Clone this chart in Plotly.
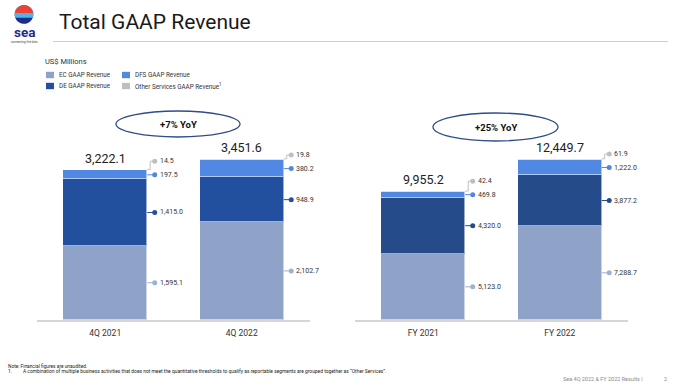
import numpy as np
import plotly.graph_objects as go

# ---------------- data ----------------
periods_q = ["4Q 2021", "4Q 2022"]
periods_fy = ["FY 2021", "FY 2022"]
series_names = ["EC GAAP Revenue", "DE GAAP Revenue", "DFS GAAP Revenue", "Other Services GAAP Revenue"]
ec_q = [1595.1, 2102.7]
de_q = [1415.0, 948.9]
dfs_q = [197.5, 380.2]
other_q = [14.5, 19.8]
total_q = [3222.1, 3451.6]
ec_fy = [5123.0, 7288.7]
de_fy = [4320.0, 3877.2]
dfs_fy = [469.8, 1222.0]
other_fy = [42.4, 61.9]
total_fy = [9955.2, 12449.7]
yoy_labels = ["+7% YoY", "+25% YoY"]

# ---------------- style ----------------
W, H = 673, 386
colors_q = ["#8FA3C8", "#22509E", "#5088E4", "#BFBFBF"]
colors_fy = ["#8FA3C8", "#264B8B", "#5088E4", "#BFBFBF"]
FONT = "Roboto"
TXT = "#333333"


def px(x):
    return x / W


def py(y):
    return 1 - y / H


fig = go.Figure()

panels = [
    dict(cats=periods_q, vals=[ec_q, de_q, dfs_q, other_q], tot=total_q, xa="x", ya="y",
         ymax=4711, colors=colors_q),
    dict(cats=periods_fy, vals=[ec_fy, de_fy, dfs_fy, other_fy], tot=total_fy, xa="x2", ya="y2",
         ymax=16990, colors=colors_fy),
]

Y_DOM = [py(320), py(100)]
dom_h = (Y_DOM[1] - Y_DOM[0]) * H
BW = 0.615
UNIT_PX = 136.5

for p in panels:
    xs = list(range(len(p["cats"])))
    cols = p["colors"]
    lcols = ["#9FB1D2"] + cols[1:]
    for s, name in enumerate(series_names):
        fig.add_trace(go.Bar(
            x=xs, y=p["vals"][s], name=name, width=BW,
            marker=dict(color=cols[s], line=dict(color="rgba(255,255,255,0.55)", width=1)),
            xaxis=p["xa"], yaxis=p["ya"], showlegend=False, hoverinfo="skip",
        ))
    k = dom_h / p["ymax"]  # px per unit
    for i in xs:
        v = [p["vals"][s][i] for s in range(4)]
        cum = np.cumsum(v)
        mids = cum - np.array(v) / 2
        top = cum[-1]
        edge = i + BW / 2
        x_el = edge + 3 / UNIT_PX
        x_dot = edge + 7.5 / UNIT_PX
        x_txt = x_dot + 3 / UNIT_PX
        lab_y = list(mids)
        lab_y[3] = max(top, lab_y[2] + 13.5 / k)
        anchors = list(mids)
        anchors[3] = top
        for s in range(4):
            if s < 2:
                lx = [edge, x_dot]
                ly = [lab_y[s], lab_y[s]]
            else:
                lx = [edge, x_el, x_el, x_dot]
                ly = [anchors[s], anchors[s], lab_y[s], lab_y[s]]
            fig.add_trace(go.Scatter(
                x=lx, y=ly, mode="lines", line=dict(color=lcols[s], width=1),
                xaxis=p["xa"], yaxis=p["ya"], showlegend=False, hoverinfo="skip"))
            fig.add_trace(go.Scatter(
                x=[x_dot], y=[lab_y[s]], mode="markers",
                marker=dict(color=lcols[s], size=5),
                xaxis=p["xa"], yaxis=p["ya"], showlegend=False, hoverinfo="skip"))
            fig.add_annotation(
                x=x_txt, y=lab_y[s], xref=p["xa"], yref=p["ya"], text=f"{v[s]:,.1f}",
                showarrow=False, xanchor="left", yanchor="middle",
                font=dict(family=FONT, size=7, color=TXT))
        fig.add_annotation(
            x=i, y=p["tot"][i], xref=p["xa"], yref=p["ya"], text=f"{p['tot'][i]:,.1f}",
            showarrow=False, xanchor="center", yanchor="bottom", yshift=2,
            font=dict(family=FONT, size=12.5, color="#222222"))

axis_common = dict(range=[-0.5, 1.5], tickmode="array", tickvals=[0, 1], showgrid=False,
                   zeroline=False, showline=True, linecolor="#D6D6D6", linewidth=2,
                   ticks="", ticklabelstandoff=4,
                   tickfont=dict(family=FONT, size=8.5, color=TXT))
fig.update_layout(
    xaxis=dict(domain=[px(37), px(310)], ticktext=periods_q, anchor="y", **axis_common),
    xaxis2=dict(domain=[px(355), px(628)], ticktext=periods_fy, anchor="y2", **axis_common),
    yaxis=dict(domain=Y_DOM, range=[0, panels[0]["ymax"]], visible=False),
    yaxis2=dict(domain=Y_DOM, range=[0, panels[1]["ymax"]], visible=False),
    barmode="stack", bargap=0,
    width=W, height=H, autosize=False,
    margin=dict(l=0, r=0, t=0, b=0),
    paper_bgcolor="white", plot_bgcolor="white",
    font=dict(family=FONT, color=TXT),
)

shapes = []
annos = []

# YoY ellipses
for (x0, x1, y0, y1), lab in zip([(116, 240, 111, 137), (433, 558, 113, 141)], yoy_labels):
    shapes.append(dict(type="circle", xref="paper", yref="paper", x0=px(x0), x1=px(x1),
                       y0=py(y1), y1=py(y0), line=dict(color="#2F4C8C", width=1.3),
                       fillcolor="white", layer="below"))
    annos.append(dict(x=px((x0 + x1) / 2), y=py((y0 + y1) / 2), xref="paper", yref="paper",
                      text=f"<b>{lab}</b>", showarrow=False, xanchor="center", yanchor="middle",
                      font=dict(family=FONT, size=9.5, color="#111111")))

# title + rule
annos.append(dict(x=px(57), y=py(22), xref="paper", yref="paper", text="Total GAAP Revenue",
                  showarrow=False, xanchor="left", yanchor="middle",
                  font=dict(family=FONT, size=21, color="#1a1a1a")))
shapes.append(dict(type="line", xref="paper", yref="paper", x0=px(53), x1=px(668),
                   y0=py(41.5), y1=py(41.5), line=dict(color="#C9CFDC", width=1.2)))

# logo
cx, cy, r = 24, 14.5, 9.3


def poly(points):
    s = "M " + " L ".join(f"{px(a):.5f},{py(b):.5f}" for a, b in points) + " Z"
    return s


ang = np.linspace(0, 2 * np.pi, 60)
shapes.append(dict(type="path", xref="paper", yref="paper", line=dict(width=0),
                   fillcolor="#1E2C8F",
                   path=poly([(cx + r * np.cos(a), cy - r * np.sin(a)) for a in ang])))
a1 = np.linspace(np.arcsin(-0.35), np.pi - np.arcsin(-0.35), 40)
shapes.append(dict(type="path", xref="paper", yref="paper", line=dict(width=0),
                   fillcolor="#4DB6E8",
                   path=poly([(cx + r * np.cos(a), cy - r * np.sin(a)) for a in a1])))
a2 = np.linspace(np.arcsin(0.15), np.pi - np.arcsin(0.15), 40)
shapes.append(dict(type="path", xref="paper", yref="paper", line=dict(width=0),
                   fillcolor="#EE4236",
                   path=poly([(cx + r * np.cos(a), cy - r * np.sin(a)) for a in a2])))
annos.append(dict(x=px(24.5), y=py(32), xref="paper", yref="paper", text="<b>sea</b>",
                  showarrow=False, xanchor="center", yanchor="middle",
                  font=dict(family=FONT, size=13.5, color="#1E2C8F")))
annos.append(dict(x=px(24.5), y=py(42.5), xref="paper", yref="paper", text="connecting the dots",
                  showarrow=False, xanchor="center", yanchor="middle",
                  font=dict(family=FONT, size=3, color="#444444")))

# legend block
annos.append(dict(x=px(43), y=py(61), xref="paper", yref="paper", text="US$ Millions",
                  showarrow=False, xanchor="left", yanchor="middle",
                  font=dict(family=FONT, size=7.5, color="#333333")))
leg_pos = [(46, 75), (46, 86), (122, 75), (122, 86)]
for s, ((lx, ly), name) in enumerate(zip(leg_pos, series_names)):
    shapes.append(dict(type="rect", xref="paper", yref="paper", x0=px(lx), x1=px(lx + 8),
                       y0=py(ly + 3.2), y1=py(ly - 3.2), line=dict(width=0), fillcolor=colors_q[s]))
    label = name + ("<sup>1</sup>" if s == 3 else "")
    annos.append(dict(x=px(lx + 11), y=py(ly), xref="paper", yref="paper", text=label,
                      showarrow=False, xanchor="left", yanchor="middle",
                      font=dict(family=FONT, size=6.3, color="#333333")))

# footer
annos.append(dict(x=px(6), y=py(366), xref="paper", yref="paper",
                  text="Note: Financial figures are unaudited.", showarrow=False,
                  xanchor="left", yanchor="middle", font=dict(family=FONT, size=4.8, color="#222222")))
annos.append(dict(x=px(6), y=py(371), xref="paper", yref="paper",
                  text="1.         A combination of multiple business activities that does not meet the quantitative thresholds to qualify as reportable segments are grouped together as \u201cOther Services\u201d.",
                  showarrow=False, xanchor="left", yanchor="middle",
                  font=dict(family=FONT, size=4.9, color="#222222")))
annos.append(dict(x=px(645), y=py(379), xref="paper", yref="paper",
                  text="Sea 4Q 2022 & FY 2022 Results |", showarrow=False,
                  xanchor="right", yanchor="middle", font=dict(family=FONT, size=5.5, color="#8A8A8A")))
annos.append(dict(x=px(665), y=py(379), xref="paper", yref="paper", text="2", showarrow=False,
                  xanchor="center", yanchor="middle", font=dict(family=FONT, size=5.5, color="#8A8A8A")))

for a in annos:
    fig.add_annotation(**a)
for sh in shapes:
    fig.add_shape(**sh)

fig.write_html("out.html", config={"displayModeBar": False},
               post_script="document.body.style.margin='0';document.body.style.overflow='hidden';")
